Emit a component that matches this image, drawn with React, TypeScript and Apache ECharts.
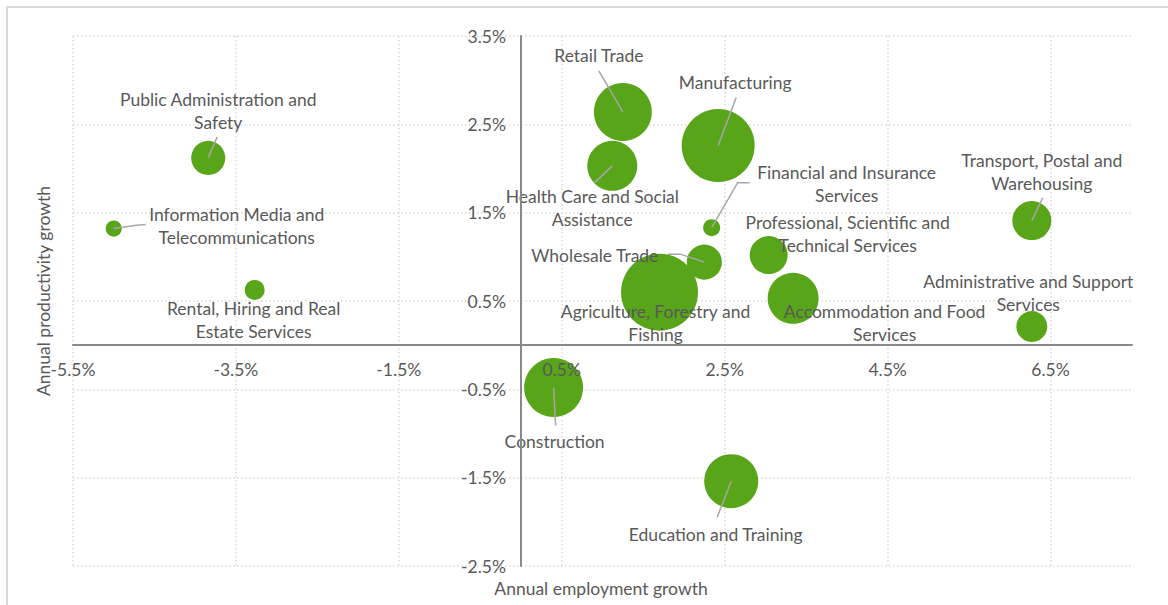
import React, { useEffect, useRef } from 'react';
import * as echarts from 'echarts';

// ---- data ----
const INDUSTRIES: string[] = [
  'Agriculture, Forestry and Fishing',
  'Manufacturing',
  'Construction',
  'Wholesale Trade',
  'Retail Trade',
  'Accommodation and Food Services',
  'Transport, Postal and Warehousing',
  'Information Media and Telecommunications',
  'Financial and Insurance Services',
  'Rental, Hiring and Real Estate Services',
  'Professional, Scientific and Technical Services',
  'Administrative and Support Services',
  'Public Administration and Safety',
  'Education and Training',
  'Health Care and Social Assistance',
];
// annual employment growth (%)
const EMPLOYMENT_GROWTH: number[] = [1.7, 2.42, 0.4, 2.25, 1.25, 3.34, 6.27, -5.0, 2.34, -3.27, 3.04, 6.27, -3.84, 2.58, 1.12];
// annual productivity growth (%)
const PRODUCTIVITY_GROWTH: number[] = [0.6, 2.26, -0.48, 0.94, 2.64, 0.53, 1.41, 1.32, 1.33, 0.625, 1.02, 0.21, 2.12, -1.54, 2.03];
// bubble size measure
const BUBBLE_SIZE: number[] = [59.3, 53.3, 34.8, 12.3, 33.6, 26.0, 15.2, 2.6, 2.9, 4.0, 14.4, 9.6, 11.6, 29.2, 25.0];

const X_MIN = -5.5;
const X_MAX = 7.5;
const X_STEP = 2;
const Y_MIN = -2.5;
const Y_MAX = 3.5;
const Y_STEP = 1;
const X_TITLE = 'Annual employment growth';
const Y_TITLE = 'Annual productivity growth';

// ---- label layout (pixel offsets from bubble centre) ----
type Lay = { dx: number; dy: number; wrap: number; leader?: number[][] };
const LABEL_LAYOUT: Lay[] = [
  { dx: -4, dy: 30.5, wrap: 3 },
  { dx: 17, dy: -63.5, wrap: 0, leader: [[18, -48]] },
  { dx: 1, dy: 54, wrap: 0, leader: [[2, 38]] },
  { dx: -109.5, dy: -7, wrap: 0, leader: [[-24, -8], [-37, -8]] },
  { dx: -24, dy: -56, wrap: 0, leader: [[-24, -41]] },
  { dx: 91.5, dy: 24.5, wrap: 3 },
  { dx: 10, dy: -48.5, wrap: 3, leader: [[11, -23]] },
  { dx: 123, dy: -2.5, wrap: 3, leader: [[21, -3], [32, -4]] },
  { dx: 135, dy: -43.5, wrap: 3, leader: [[26, -45], [38, -45]] },
  { dx: -1, dy: 30.5, wrap: 4 },
  { dx: 79, dy: -21.5, wrap: 3 },
  { dx: -3.5, dy: -34, wrap: 3 },
  { dx: 10, dy: -46.5, wrap: 3, leader: [[9, -21]] },
  { dx: -15.5, dy: 53, wrap: 0, leader: [[-14, 36]] },
  { dx: -20, dy: 42.5, wrap: 4, leader: [[-18, 17]] },
];

const FONT_FAMILY = 'Lato';
const FS = 17.5;
const TEXT_COLOR = '#595959';
const BUBBLE_COLOR = '#58A51A';

const W = 1168;
const H = 605;
const GRID = { left: 73, right: 36, top: 36, bottom: 39 };

function wrapLabel(name: string, n: number): string {
  if (!n) return name;
  const w = name.split(' ');
  return w.slice(0, n).join(' ') + '\n' + w.slice(n).join(' ');
}

const pct = (v: number) => v.toFixed(1) + '%';

export default function App() {
  const ref = useRef<HTMLDivElement>(null);
  useEffect(() => {
    if (!ref.current) return;
    const chart = echarts.init(ref.current, undefined, { renderer: 'svg' });
    const plotW = W - GRID.left - GRID.right;
    const plotH = H - GRID.top - GRID.bottom;
    // shift the labelled axes so they sit on the zero lines
    const xAxisOffset = -((0 - Y_MIN) / (Y_MAX - Y_MIN)) * plotH;
    const yAxisOffset = -((0 - X_MIN) / (X_MAX - X_MIN)) * plotW;
    const gridSplit = { show: true, lineStyle: { color: '#D9D9D9', width: 1.5, type: [1.5, 2.5] as any } };
    const labelStyle = { color: TEXT_COLOR, fontSize: FS, fontFamily: FONT_FAMILY };
    const axisLineStyle = { color: '#898989', width: 2 };
    const xy = INDUSTRIES.map((_, i) => [EMPLOYMENT_GROWTH[i], PRODUCTIVITY_GROWTH[i]]);
    const option: any = {
      animation: false,
      textStyle: { fontFamily: FONT_FAMILY },
      grid: { ...GRID, containLabel: false },
      xAxis: [
        {
          type: 'value', min: X_MIN, max: X_MAX, interval: X_STEP, z: 0,
          axisLine: { show: false }, axisTick: { show: false }, axisLabel: { show: false },
          splitLine: { ...gridSplit, showMaxLine: false },
        },
        {
          type: 'value', min: X_MIN, max: X_MAX, interval: X_STEP, z: 10, position: 'bottom',
          offset: xAxisOffset,
          axisLine: { show: true, onZero: false, lineStyle: axisLineStyle },
          axisTick: { show: false },
          axisLabel: { ...labelStyle, margin: 15, formatter: pct, showMaxLabel: false },
          splitLine: { show: false },
        },
      ],
      yAxis: [
        {
          type: 'value', min: Y_MIN, max: Y_MAX, interval: Y_STEP, z: 0,
          axisLine: { show: false }, axisTick: { show: false }, axisLabel: { show: false },
          splitLine: gridSplit,
        },
        {
          type: 'value', min: Y_MIN, max: Y_MAX, interval: Y_STEP, z: 10, position: 'left',
          offset: yAxisOffset,
          axisLine: { show: true, onZero: false, lineStyle: axisLineStyle },
          axisTick: { show: false },
          axisLabel: { ...labelStyle, margin: 15, formatter: pct },
          splitLine: { show: false },
        },
      ],
      graphic: [
        { type: 'rect', shape: { x: 7, y: 7, width: 1400, height: 900 }, style: { fill: null, stroke: '#D9D9D9', lineWidth: 2 }, silent: true },
        { type: 'text', x: 601, y: 588, style: { text: X_TITLE, align: 'center', verticalAlign: 'middle', fill: TEXT_COLOR, font: `${FS}px ${FONT_FAMILY}` } },
        { type: 'text', x: 43, y: 291, rotation: Math.PI / 2, style: { text: Y_TITLE, align: 'center', verticalAlign: 'middle', fill: TEXT_COLOR, font: `${FS}px ${FONT_FAMILY}` } },
      ],
      series: [
        {
          type: 'scatter', z: 2,
          data: INDUSTRIES.map((name, i) => ({ name, value: [EMPLOYMENT_GROWTH[i], PRODUCTIVITY_GROWTH[i], BUBBLE_SIZE[i]] })),
          symbolSize: (val: number[]) => 10 * Math.sqrt(val[2]),
          itemStyle: { color: BUBBLE_COLOR, opacity: 1 },
          label: { show: false },
        },
        {
          type: 'custom', z: 5, clip: false,
          data: xy,
          renderItem: (params: any, api: any) => {
            const i = params.dataIndex;
            const p = api.coord([api.value(0), api.value(1)]);
            const L = LABEL_LAYOUT[i];
            const children: any[] = [];
            if (L.leader) {
              children.push({
                type: 'polyline', silent: true,
                shape: { points: [p, ...L.leader.map(([a, b]) => [p[0] + a, p[1] + b])] },
                style: { stroke: '#A6A6A6', lineWidth: 1.5, fill: null },
              });
            }
            children.push({
              type: 'text', x: p[0] + L.dx, y: p[1] + L.dy,
              style: {
                text: wrapLabel(INDUSTRIES[i], L.wrap), align: 'center', verticalAlign: 'middle',
                fill: TEXT_COLOR, font: `${FS}px ${FONT_FAMILY}`, lineHeight: 23,
              },
            });
            return { type: 'group', children };
          },
        },
      ],
    };
    chart.setOption(option);
    return () => chart.dispose();
  }, []);
  return <div ref={ref} style={{ position: 'absolute', left: 0, top: 0, width: W, height: H }} />;
}
